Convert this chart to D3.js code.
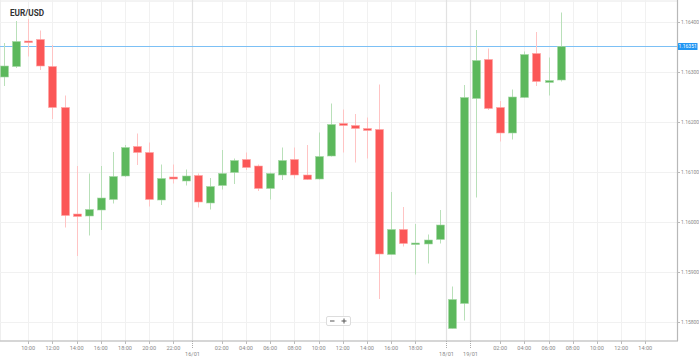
<!DOCTYPE html>
<html><head><meta charset="utf-8">
<script src="https://cdn.jsdelivr.net/npm/d3@7"></script>
<style>body{margin:0;background:#fff;}svg{display:block;font-family:Roboto,"DejaVu Sans",sans-serif;}</style>
</head><body><svg id="c" width="699" height="359"></svg>
<script>
const title = "EUR/USD";
const times = ["15/01 08:00","15/01 09:00","15/01 10:00","15/01 11:00","15/01 12:00","15/01 13:00","15/01 14:00","15/01 15:00","15/01 16:00","15/01 17:00","15/01 18:00","15/01 19:00","15/01 20:00","15/01 21:00","15/01 22:00","15/01 23:00",
"16/01 00:00","16/01 01:00","16/01 02:00","16/01 03:00","16/01 04:00","16/01 05:00","16/01 06:00","16/01 07:00","16/01 08:00","16/01 09:00","16/01 10:00","16/01 11:00","16/01 12:00","16/01 13:00","16/01 14:00","16/01 15:00","16/01 16:00","16/01 17:00","16/01 18:00","16/01 19:00","16/01 20:00",
"18/01 22:00","18/01 23:00","19/01 00:00","19/01 01:00","19/01 02:00","19/01 03:00","19/01 04:00","19/01 05:00","19/01 06:00","19/01 07:00"];
const futureSlots = ["19/01 08:00","19/01 09:00","19/01 10:00","19/01 11:00","19/01 12:00","19/01 13:00","19/01 14:00","19/01 15:00","19/01 16:00"];
const open  = [1.16290,1.16311,1.16362,1.16365,1.16311,1.16229,1.16016,1.16012,1.16024,1.16045,1.16092,1.16151,1.16139,1.16044,1.16090,1.16082,
1.16093,1.16038,1.16073,1.16099,1.16125,1.16112,1.16067,1.16094,1.16125,1.16094,1.16086,1.16132,1.16197,1.16193,1.16187,1.16185,1.15935,1.15985,1.15955,1.15956,1.15965,
1.15787,1.15837,1.16247,1.16325,1.16229,1.16178,1.16249,1.16337,1.16279,1.16284];
const high  = [1.16358,1.16402,1.16406,1.16383,1.16354,1.16253,1.16112,1.16097,1.16112,1.16140,1.16154,1.16177,1.16159,1.16115,1.16115,1.16105,
1.16097,1.16088,1.16144,1.16127,1.16139,1.16115,1.16099,1.16149,1.16149,1.16154,1.16179,1.16237,1.16225,1.16216,1.16209,1.16275,1.16060,1.16030,1.15996,1.15975,1.16024,
1.15871,1.16274,1.16384,1.16347,1.16242,1.16265,1.16341,1.16380,1.16329,1.16419];
const low   = [1.16272,1.16308,1.16331,1.16304,1.16206,1.15989,1.15932,1.15973,1.15984,1.16037,1.16090,1.16114,1.16031,1.16034,1.16077,1.16073,
1.16029,1.16025,1.16065,1.16076,1.16104,1.16062,1.16045,1.16084,1.16087,1.16084,1.16085,1.16131,1.16139,1.16119,1.16127,1.15846,1.15935,1.15951,1.15895,1.15917,1.15957,
1.15787,1.15803,1.16049,1.16224,1.16161,1.16165,1.16248,1.16272,1.16253,1.16281];
const close = [1.16312,1.16361,1.16359,1.16312,1.16229,1.16013,1.16011,1.16025,1.16048,1.16091,1.16149,1.16139,1.16045,1.16087,1.16086,1.16092,
1.16040,1.16071,1.16097,1.16123,1.16109,1.16067,1.16097,1.16123,1.16094,1.16085,1.16131,1.16195,1.16193,1.16187,1.16183,1.15936,1.15985,1.15957,1.15958,1.15964,1.15994,
1.15845,1.16249,1.16323,1.16227,1.16178,1.16250,1.16335,1.16281,1.16283,1.16351];
const yTicks = [1.158,1.159,1.160,1.161,1.162,1.163,1.164];
const xTickKeys = ["15/01 10:00","15/01 12:00","15/01 14:00","15/01 16:00","15/01 18:00","15/01 20:00","15/01 22:00",
"16/01 02:00","16/01 04:00","16/01 06:00","16/01 08:00","16/01 10:00","16/01 12:00","16/01 14:00","16/01 16:00","16/01 18:00",
"19/01 02:00","19/01 04:00","19/01 06:00","19/01 08:00","19/01 10:00","19/01 12:00","19/01 14:00"];
const daySeps = [["15/01 23:00","16/01 00:00","16/01"],["16/01 20:00","18/01 22:00","18/01"],["18/01 23:00","19/01 00:00","19/01"]];
const currentPrice = 1.16351;

const svg = d3.select("#c");
const W = 677, B = 341;
const slots = times.concat(futureSlots);
const x = d3.scaleBand().domain(slots).range([-2.05, -2.05 + slots.length*12.1]).paddingInner(0);
const xc = k => x(k) + x.bandwidth()/2;
const y = d3.scaleLinear().domain([1.158,1.164]).range([322,22]);

// borders
svg.append("line").attr("x1",0).attr("x2",W).attr("y1",1).attr("y2",1).attr("stroke","#e8e8e8");
svg.append("line").attr("x1",0.5).attr("x2",0.5).attr("y1",0).attr("y2",B).attr("stroke","#eeeeee");
// grid
const g = svg.append("g");
g.selectAll(".hg").data(yTicks).join("line").attr("x1",0).attr("x2",W)
 .attr("y1",d=>Math.round(y(d))+0.5).attr("y2",d=>Math.round(y(d))+0.5).attr("stroke","#f1f1f1");
g.selectAll(".vg").data(xTickKeys).join("line").attr("x1",d=>Math.round(xc(d))+0.5).attr("x2",d=>Math.round(xc(d))+0.5)
 .attr("y1",0).attr("y2",B).attr("stroke","#f1f1f1");
const sepX = d => Math.round((xc(d[0])+xc(d[1]))/2)+0.5;
g.selectAll(".ds").data(daySeps).join("line").attr("x1",sepX).attr("x2",sepX)
 .attr("y1",0).attr("y2",B).attr("stroke","#e2e2e2").attr("stroke-width",1.2);

// price line
svg.append("line").attr("x1",0).attr("x2",W).attr("y1",Math.round(y(currentPrice))+0.5).attr("y2",Math.round(y(currentPrice))+0.5)
 .attr("stroke","#7cc0f5").attr("stroke-width",1);

// candles
const idx = d3.range(times.length);
const up = i => close[i] >= open[i];
const cg = svg.append("g");
cg.selectAll(".w").data(idx).join("line")
 .attr("x1",i=>Math.round(xc(times[i]))+0.5).attr("x2",i=>Math.round(xc(times[i]))+0.5)
 .attr("y1",i=>y(high[i])).attr("y2",i=>y(low[i]))
 .attr("stroke",i=>up(i)?"#b9e0b9":"#ffc4c4").attr("stroke-width",1);
cg.selectAll(".b").data(idx).join("rect")
 .attr("x",i=>Math.round(xc(times[i]))-3.5).attr("width",8)
 .attr("y",i=>Math.min(y(open[i]),y(close[i])))
 .attr("height",i=>Math.max(1.6,Math.abs(y(open[i])-y(close[i]))))
 .attr("fill",i=>up(i)?"#5cb85c":"#fb5757")
 .attr("stroke",i=>up(i)?"#a6d8a6":"#ffa5a5").attr("stroke-width",0.6);

// axes lines
svg.append("line").attr("x1",0).attr("x2",W+1).attr("y1",B).attr("y2",B).attr("stroke","#c8c8c8").attr("stroke-width",1.6);
svg.append("line").attr("x1",W+0.5).attr("x2",W+0.5).attr("y1",0).attr("y2",B).attr("stroke","#b8b8b8").attr("stroke-width",1.2);

// x ticks
const xa = svg.append("g");
xa.selectAll(".t").data(xTickKeys).join("line").attr("x1",d=>Math.round(xc(d))+0.5).attr("x2",d=>Math.round(xc(d))+0.5)
 .attr("y1",B).attr("y2",B+3).attr("stroke","#bbb");
xa.selectAll(".l").data(xTickKeys).join("text").attr("x",d=>xc(d)).attr("y",349.5)
 .attr("text-anchor","middle").attr("font-size",5.6).attr("fill","#8a8a8a").text(d=>d.split(" ")[1]);
xa.selectAll(".dt").data(daySeps).join("line").attr("x1",sepX).attr("x2",sepX)
 .attr("y1",B).attr("y2",B+7).attr("stroke","#aaa").attr("stroke-dasharray","1,1");
xa.selectAll(".dl").data(daySeps).join("text").attr("x",d=>sepX(d)).attr("y",355.5)
 .attr("text-anchor","middle").attr("font-size",5.6).attr("fill","#8a8a8a").text(d=>d[2]);

// y ticks
const ya = svg.append("g");
ya.selectAll(".t").data(yTicks).join("line").attr("x1",W).attr("x2",W+3)
 .attr("y1",d=>Math.round(y(d))+0.5).attr("y2",d=>Math.round(y(d))+0.5).attr("stroke","#bbb");
ya.selectAll(".l").data(yTicks).join("text").attr("x",681).attr("y",d=>y(d)+2)
 .attr("font-size",5).attr("fill","#8a8a8a").text(d=>d.toFixed(5));

// current price label
const py = y(currentPrice);
svg.append("rect").attr("x",678).attr("y",py-3.5).attr("width",19.5).attr("height",7).attr("fill","#2196f3").attr("rx",0.5);
svg.append("text").attr("x",687.7).attr("y",py+1.8).attr("text-anchor","middle").attr("font-size",5).attr("fill","#fff").text(currentPrice.toFixed(5));

// title
svg.append("text").attr("x",10).attr("y",15.5).attr("font-size",8.2).attr("font-weight","bold").attr("fill","#333").text(title);

// zoom control
const z = svg.append("g");
z.append("rect").attr("x",326.5).attr("y",316.5).attr("width",24).attr("height",9).attr("rx",1.5)
 .attr("fill","#fff").attr("stroke","#ddd");
z.append("line").attr("x1",330).attr("x2",334.5).attr("y1",321).attr("y2",321).attr("stroke","#555").attr("stroke-width",1);
z.append("line").attr("x1",341.5).attr("x2",346.5).attr("y1",321).attr("y2",321).attr("stroke","#555").attr("stroke-width",1);
z.append("line").attr("x1",344).attr("x2",344).attr("y1",318.5).attr("y2",323.5).attr("stroke","#555").attr("stroke-width",1);
</script></body></html>
